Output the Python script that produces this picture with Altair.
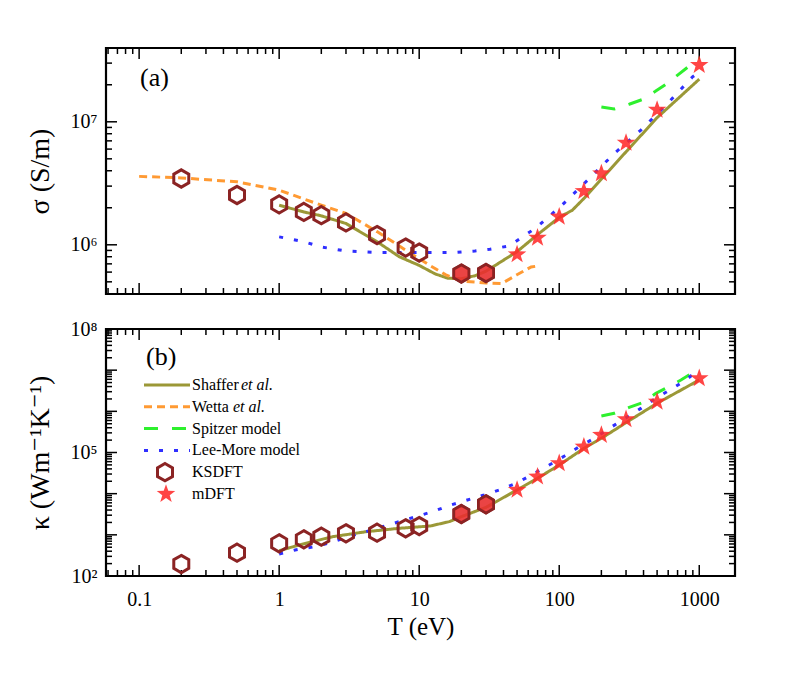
import math
import altair as alt
import pandas as pd

FONT = "'Liberation Serif', 'Times New Roman', Times, 'DejaVu Serif', serif"

# ---------------- data ----------------
# KSDFT (hexagons)
ks_T = [0.2, 0.5, 1, 1.5, 2, 3, 5, 8, 10, 20, 30]
ks_sigma = [3.46e6, 2.54e6, 2.13e6, 1.85e6, 1.74e6, 1.52e6, 1.20e6, 9.5e5, 8.65e5, 5.84e5, 5.9e5]
ks_kappa = [195, 368, 622, 778, 901, 1090, 1127, 1440, 1637, 3205, 5510]

# mDFT (stars)
md_T = [50, 70, 100, 150, 200, 300, 500, 1000]
md_sigma = [8.35e5, 1.14e6, 1.69e6, 2.73e6, 3.8e6, 6.74e6, 1.25e7, 2.89e7]
md_kappa = [1.23e4, 2.58e4, 5.46e4, 1.38e5, 2.66e5, 6.4e5, 1.71e6, 6.33e6]

# panel (a) model curves: sigma (S/m)
shaffer_a_T = [1, 1.5, 2, 3, 5, 7.2, 10, 13, 16, 20, 25, 30, 50, 70, 100, 124, 150, 200, 300, 500, 1000]
shaffer_a_v = [2.1e6, 1.85e6, 1.72e6, 1.49e6, 1.06e6, 8.0e5, 6.8e5, 5.8e5, 5.35e5, 5.3e5, 5.6e5, 6.1e5,
               8.8e5, 1.21e6, 1.67e6, 1.91e6, 2.38e6, 3.42e6, 5.7e6, 1.08e7, 2.22e7]
wetta_a_T = [0.1, 0.2, 0.5, 1, 2, 3, 5, 8, 10, 12, 15.5, 20, 30, 39, 49.5, 63, 72]
wetta_a_v = [3.6e6, 3.5e6, 3.25e6, 2.78e6, 2.1e6, 1.8e6, 1.28e6, 9.06e5, 7.7e5, 6.76e5, 5.7e5, 5.07e5,
             4.9e5, 4.85e5, 5.68e5, 6.6e5, 6.76e5]
spitzer_a_T = [200, 247, 316, 394, 486, 578, 708, 850, 1000]
spitzer_a_v = [1.32e7, 1.27e7, 1.39e7, 1.52e7, 1.77e7, 2.02e7, 2.42e7, 2.85e7, 3.25e7]
leemore_a_T = [1, 1.5, 2, 3, 5, 10, 18, 25, 32, 44, 68, 106, 164, 247, 383, 594, 896, 1000]
leemore_a_v = [1.16e6, 1.06e6, 9.6e5, 8.9e5, 8.65e5, 8.65e5, 8.65e5, 8.9e5, 9.2e5, 9.8e5, 1.37e6, 2.13e6,
               3.46e6, 5.52e6, 8.56e6, 1.41e7, 2.32e7, 2.55e7]

# panel (b) model curves: kappa (W m^-1 K^-1)
shaffer_b_T = [1, 1.39, 2.4, 4.16, 7.2, 12, 16.4, 20, 30, 50, 70, 100, 150, 200, 300, 500, 1000]
shaffer_b_v = [413, 566, 900, 1190, 1440, 1640, 2090, 2760, 4660, 1.23e4, 2.36e4, 4.97e4, 1.26e5, 2.21e5,
               5.31e5, 1.57e6, 5.77e6]
spitzer_b_T = [200, 247, 316, 394, 490, 594, 740, 900, 950]
spitzer_b_v = [7.7e5, 8.95e5, 1.25e6, 1.62e6, 2.74e6, 3.83e6, 5.77e6, 8.7e6, 9.6e6]
leemore_b_T = [1, 1.3, 1.78, 2.37, 3.0, 4.16, 5.47, 7.2, 9.47, 12.6, 16.8, 22.1, 29.1, 38.3, 50.4, 66.3,
               84.8, 109, 139, 178, 234, 383, 490, 628, 804, 920]
leemore_b_v = [342, 428, 516, 658, 870, 1190, 1580, 2090, 2760, 3700, 5310, 7020, 9270, 1.27e4, 1.85e4,
               3.12e4, 4.97e4, 8.2e4, 1.38e5, 2.21e5, 4.08e5, 1.18e6, 2.07e6, 3.43e6, 5.77e6, 8.4e6]

models = ["Shaffer et al.", "Wetta et al.", "Spitzer model", "Lee-More model"]
methods = ["KSDFT", "mDFT"]

# ---------------- styles ----------------
STYLE = {
    "Shaffer et al.": dict(color="#9B9837", dash=[1, 0]),
    "Wetta et al.": dict(color="#FF9A33", dash=[8, 5]),
    "Spitzer model": dict(color="#2EF02E", dash=[14, 14]),
    "Lee-More model": dict(color="#2F2FFF", dash=[4, 11]),
}
HEX_COLOR = "#8B2323"
STAR_COLOR = "#FF2B2B"

HEX = "M0,-1L0.866,-0.5L0.866,0.5L0,1L-0.866,0.5L-0.866,-0.5Z"
_pts = []
for k in range(10):
    r = 1.0 if k % 2 == 0 else 0.4
    a = math.radians(-90 + 36 * k)
    _pts.append(f"{r * math.cos(a):.3f},{r * math.sin(a):.3f}")
STAR = "M" + "L".join(_pts) + "Z"

W, H1, H2 = 629, 246, 247
XDOM = [0.058, 1800]
YDOM_A = [10 ** 5.6, 10 ** 7.6]
YDOM_B = [1e2, 1e8]

SUP = "['⁰','¹','²','³','⁴','⁵','⁶','⁷','⁸','⁹']"
LABEL_EXPR = "'10' + " + SUP + "[round(log(datum.value)/LN10)]"


def decade_ticks(lo, hi):
    major, minor = [], []
    for e in range(-3, 10):
        for m in range(1, 10):
            v = m * 10.0 ** e
            if lo * 1.0001 <= v <= hi / 1.0001:
                (major if m == 1 else minor).append(v)
    return major, minor


def tick_layers(X, Y, H, ydom):
    out = []
    xmaj, xmin = decade_ticks(*XDOM)
    for vals, L in [(xmaj, 11), (xmin, 6)]:
        base = alt.Chart(pd.DataFrame({"T": vals})).mark_rule(color="black", strokeWidth=1.5)
        out.append(base.encode(x=X, y=alt.value(H), y2=alt.value(H - L)))
        out.append(base.encode(x=X, y=alt.value(0), y2=alt.value(L)))
    ymaj, ymin = decade_ticks(*ydom)
    for vals, L in [(ymaj, 11), (ymin, 6)]:
        base = alt.Chart(pd.DataFrame({"v": vals})).mark_rule(color="black", strokeWidth=1.5)
        out.append(base.encode(y=Y, x=alt.value(0), x2=alt.value(L)))
        out.append(base.encode(y=Y, x=alt.value(W), x2=alt.value(W - L)))
    return out


def panel(curves, ks_v, md_v, ydom, H, xaxis, yaxis, tag, tag_xy):
    X = alt.X("T:Q", scale=alt.Scale(type="log", domain=XDOM), axis=xaxis)
    Y = alt.Y("v:Q", scale=alt.Scale(type="log", domain=ydom), axis=yaxis)
    layers = tick_layers(X, Y, H, ydom)
    for name, (tt, vv) in curves.items():
        st = STYLE[name]
        layers.append(
            alt.Chart(pd.DataFrame({"T": tt, "v": vv}))
            .mark_line(color=st["color"], strokeDash=st["dash"], strokeWidth=3, clip=True)
            .encode(x=X, y=Y)
        )
    ks = pd.DataFrame({"T": ks_T, "v": ks_v})
    layers.append(
        alt.Chart(ks).mark_point(shape=HEX, size=300, filled=False, stroke=HEX_COLOR,
                                 strokeWidth=3, opacity=1).encode(x=X, y=Y)
    )
    layers.append(
        alt.Chart(ks).transform_filter("datum.T >= 20")
        .mark_point(shape=HEX, size=300, filled=True, fill="#E83030", fillOpacity=0.9,
                    stroke=HEX_COLOR, strokeWidth=2.5, opacity=1).encode(x=X, y=Y)
    )
    layers.append(
        alt.Chart(pd.DataFrame({"T": md_T, "v": md_v}))
        .mark_point(shape=STAR, size=380, filled=True, fill=STAR_COLOR, opacity=0.88, strokeWidth=0)
        .encode(x=X, y=Y)
    )
    layers.append(
        alt.Chart(pd.DataFrame({"t": [tag]}))
        .mark_text(align="left", baseline="alphabetic", font=FONT, fontSize=26, color="black")
        .encode(x=alt.value(tag_xy[0]), y=alt.value(tag_xy[1]), text="t:N")
    )
    return alt.layer(*layers)


yaxis_common = dict(ticks=False, domain=False, grid=False, labelFont=FONT, labelFontSize=20,
                    labelColor="black", labelPadding=9, labelExpr=LABEL_EXPR,
                    titleFont=FONT, titleFontSize=28, titleFontWeight="normal",
                    titleColor="black", titlePadding=16)

top = panel(
    {"Shaffer et al.": (shaffer_a_T, shaffer_a_v),
     "Wetta et al.": (wetta_a_T, wetta_a_v),
     "Spitzer model": (spitzer_a_T, spitzer_a_v),
     "Lee-More model": (leemore_a_T, leemore_a_v)},
    ks_sigma, md_sigma, YDOM_A, H1,
    None,
    alt.Axis(values=[1e6, 1e7], title="σ (S/m)", **yaxis_common),
    "(a)", (34, 38),
).properties(width=W, height=H1)

bottom_panel = panel(
    {"Shaffer et al.": (shaffer_b_T, shaffer_b_v),
     "Spitzer model": (spitzer_b_T, spitzer_b_v),
     "Lee-More model": (leemore_b_T, leemore_b_v)},
    ks_kappa, md_kappa, YDOM_B, H2,
    alt.Axis(values=[0.1, 1, 10, 100, 1000], format="~g", ticks=False, domain=False, grid=False,
             labelFont=FONT, labelFontSize=20, labelColor="black", labelPadding=13,
             title="T (eV)", titleFont=FONT, titleFontSize=25, titleFontWeight="normal",
             titleColor="black", titlePadding=5),
    alt.Axis(values=[1e2, 1e5, 1e8], title="κ (Wm⁻¹K⁻¹)", **yaxis_common),
    "(b)", (40, 36),
)

# ---------------- legend (inside panel b) ----------------
leg = pd.DataFrame({
    "row": [0, 1, 2, 3, 4, 5],
    "label": ["Shaffer", "Wetta", "Spitzer model", "Lee-More model", "KSDFT", "mDFT"],
})
YL = alt.Y("row:Q", scale=alt.Scale(domain=[0, 5], range=[56, 165]), axis=None)
leg_layers = []
for i, name in enumerate(models):
    st = STYLE[name]
    leg_layers.append(
        alt.Chart(leg).transform_filter(f"datum.row == {i}")
        .mark_rule(color=st["color"], strokeDash=st["dash"], strokeWidth=3)
        .encode(x=alt.value(38), x2=alt.value(84), y=YL)
    )
leg_layers.append(
    alt.Chart(leg).transform_filter("datum.row == 4")
    .mark_point(shape=HEX, size=300, filled=False, stroke=HEX_COLOR, strokeWidth=3, opacity=1)
    .encode(x=alt.value(59), y=YL)
)
leg_layers.append(
    alt.Chart(leg).transform_filter("datum.row == 5")
    .mark_point(shape=STAR, size=380, filled=True, fill=STAR_COLOR, opacity=0.88, strokeWidth=0)
    .encode(x=alt.value(60), y=YL)
)
leg_layers.append(
    alt.Chart(leg).mark_text(align="left", baseline="middle", font=FONT, fontSize=16, color="black")
    .encode(x=alt.value(86), y=YL, text="label:N")
)
for i, dx in [(0, 49), (1, 41)]:
    leg_layers.append(
        alt.Chart(leg).transform_filter(f"datum.row == {i}")
        .transform_calculate(it="'et al.'")
        .mark_text(align="left", baseline="middle", font=FONT, fontSize=16, fontStyle="italic",
                   color="black", dx=dx)
        .encode(x=alt.value(86), y=YL, text="it:N")
    )
legend_layer = alt.layer(*leg_layers)

bottom = alt.layer(bottom_panel, legend_layer).resolve_scale(y="independent").properties(width=W, height=H2)

chart = (
    alt.vconcat(top, bottom, spacing=21)
    .properties(padding={"left": 16, "top": 38, "right": 10, "bottom": 10}, background="white")
    .configure_view(stroke="black", strokeWidth=2.2)
)

chart.save("out.html", embed_options={"renderer": "svg", "actions": False})
